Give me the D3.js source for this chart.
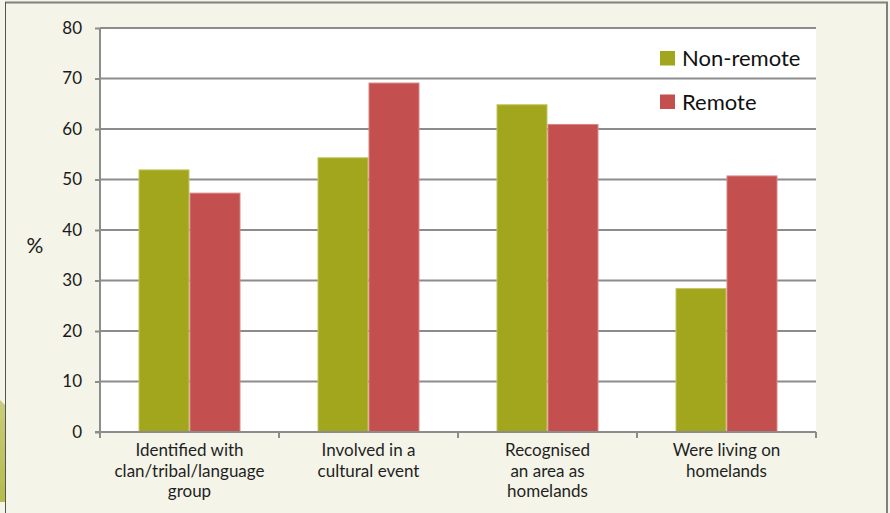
<!DOCTYPE html>
<html>
<head>
<meta charset="utf-8">
<script src="https://cdn.jsdelivr.net/npm/d3@7"></script>
<style>
  body { margin: 0; background: #f4f4e8; }
  svg { display: block; }
  text { font-family: Lato, "Open Sans", sans-serif; }
</style>
</head>
<body>
<svg id="chart" width="890" height="513"></svg>
<script>
// Survey categories (line breaks mark where each label wraps)
const categories = [
  "Identified with\nclan/tribal/language\ngroup",
  "Involved in a\ncultural event",
  "Recognised\nan area as\nhomelands",
  "Were living on\nhomelands"
];
const seriesNames = ["Non-remote", "Remote"];
const nonRemote = [52.0, 54.4, 64.9, 28.5];
const remote = [47.4, 69.2, 61.0, 50.8];
const yTicks = [0, 10, 20, 30, 40, 50, 60, 70, 80];

const seriesValues = [nonRemote, remote];
const colors = { "Non-remote": "#a1a61c", "Remote": "#c3504e" };
const edgeColors = { "Non-remote": "#c2c563", "Remote": "#d98584" };

const svg = d3.select("#chart");
const W = 890, H = 513;
const plot = { left: 100, right: 816, top: 28, bottom: 432 };

// Page panel
svg.append("rect").attr("width", W).attr("height", H).attr("fill", "#f4f4e8");

// Green side tab
const tabGrad = svg.append("defs").append("linearGradient")
  .attr("id", "tabGrad").attr("x1", 0).attr("y1", 0).attr("x2", 0).attr("y2", 1);
tabGrad.append("stop").attr("offset", "0%").attr("stop-color", "#c9cd7c");
tabGrad.append("stop").attr("offset", "100%").attr("stop-color", "#b4bc4a");
svg.append("path")
  .attr("d", "M0,400 L5,405 L5,502 L0,502 Z")
  .attr("fill", "url(#tabGrad)");

// Panel borders
svg.append("line").attr("x1", 5).attr("x2", 888).attr("y1", 2.5).attr("y2", 2.5)
  .attr("stroke", "#808080").attr("stroke-width", 2);
svg.append("line").attr("x1", 887).attr("x2", 887).attr("y1", 2).attr("y2", H)
  .attr("stroke", "#808080").attr("stroke-width", 2);
svg.append("line").attr("x1", 5.5).attr("x2", 5.5).attr("y1", 2).attr("y2", H)
  .attr("stroke", "#555555").attr("stroke-width", 1);

// Scales
const x = d3.scaleBand().domain(categories).range([plot.left, plot.right])
  .paddingInner(0).paddingOuter(0);
const xSub = d3.scaleBand().domain(seriesNames).range([0, x.bandwidth()])
  .paddingInner(0).paddingOuter(0.755);
const y = d3.scaleLinear().domain([0, 80]).range([plot.bottom, plot.top]);

// Plot area
svg.append("rect")
  .attr("x", plot.left).attr("y", plot.top)
  .attr("width", plot.right - plot.left).attr("height", plot.bottom - plot.top)
  .attr("fill", "#ffffff");

// Horizontal gridlines
svg.append("g").selectAll("line")
  .data(yTicks.filter(d => d > 0))
  .join("line")
  .attr("x1", plot.left).attr("x2", plot.right)
  .attr("y1", d => y(d)).attr("y2", d => y(d))
  .attr("stroke", "#8c8c8c").attr("stroke-width", 2);

// Bars
const groups = svg.append("g").selectAll("g")
  .data(categories)
  .join("g")
  .attr("transform", d => `translate(${x(d)},0)`);

groups.selectAll("rect")
  .data((c, i) => seriesNames.map((s, k) => ({ s, v: seriesValues[k][i] })))
  .join("rect")
  .attr("x", d => xSub(d.s) + 0.5)
  .attr("y", d => y(d.v) + 0.5)
  .attr("width", xSub.bandwidth() - 1)
  .attr("height", d => y(0) - y(d.v) - 0.5)
  .attr("fill", d => colors[d.s])
  .attr("stroke", d => edgeColors[d.s])
  .attr("stroke-width", 1);

// Y axis
const yAxis = svg.append("g")
  .attr("transform", `translate(${plot.left},0)`)
  .call(d3.axisLeft(y).tickValues(yTicks).tickSize(5).tickPadding(13).tickFormat(d3.format("d")));
yAxis.attr("font-size", null).attr("font-family", null);
yAxis.select(".domain").attr("stroke", "#8c8c8c").attr("stroke-width", 2)
  .attr("d", `M0,${plot.top}V${plot.bottom}`);
yAxis.selectAll(".tick line").attr("stroke", "#8c8c8c").attr("stroke-width", 2);
yAxis.selectAll(".tick text")
  .style("font-size", "17px").attr("fill", "#1a1a1a");

// X axis line and boundary ticks
const xAxis = svg.append("g");
xAxis.append("line")
  .attr("x1", plot.left - 5).attr("x2", plot.right)
  .attr("y1", y(0)).attr("y2", y(0))
  .attr("stroke", "#8c8c8c").attr("stroke-width", 2);
const boundaries = categories.map(c => x(c)).concat([x.range()[1]]);
xAxis.selectAll("line.tick")
  .data(boundaries)
  .join("line").attr("class", "tick")
  .attr("x1", d => d).attr("x2", d => d)
  .attr("y1", y(0)).attr("y2", y(0) + 6)
  .attr("stroke", "#8c8c8c").attr("stroke-width", 2);

// Category labels, one text element per wrapped line
const labelLines = categories.flatMap(c =>
  c.split("\n").map((line, i) => ({ line, i, cx: x(c) + x.bandwidth() / 2 })));
svg.append("g").selectAll("text")
  .data(labelLines)
  .join("text")
  .attr("x", d => d.cx)
  .attr("y", d => 456 + d.i * 20.5)
  .attr("text-anchor", "middle")
  .style("font-size", "17px")
  .attr("fill", "#1f1f1f")
  .text(d => d.line);

// Y axis title
svg.append("text")
  .attr("x", 35).attr("y", 253)
  .attr("text-anchor", "middle")
  .style("font-size", "21px")
  .attr("fill", "#1a1a1a")
  .text("%");

// Legend
const legend = svg.append("g").selectAll("g")
  .data(seriesNames)
  .join("g")
  .attr("transform", (d, i) => `translate(660,${51 + i * 43.5})`);
legend.append("rect")
  .attr("width", 15).attr("height", 14.5)
  .attr("fill", d => colors[d]);
legend.append("text")
  .attr("x", 22).attr("y", 15)
  .style("font-size", "22px")
  .attr("fill", "#111111")
  .text(d => d);
</script>
</body>
</html>
